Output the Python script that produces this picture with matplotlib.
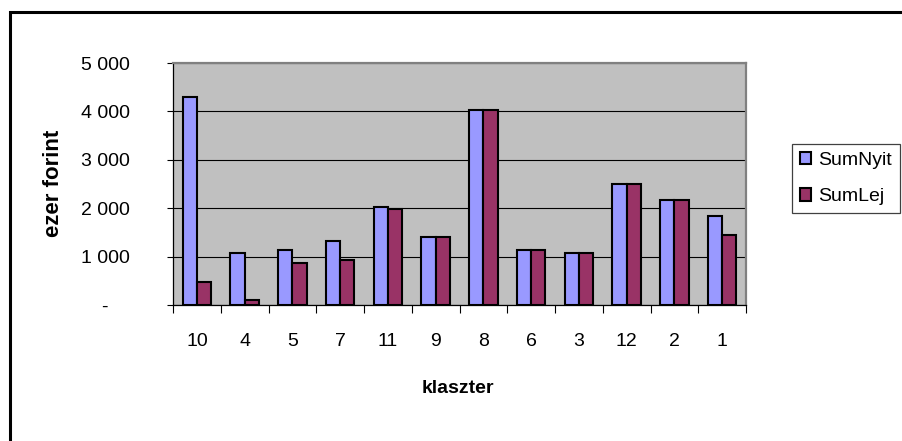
import matplotlib.pyplot as plt
import numpy as np
from matplotlib.patches import Rectangle
from matplotlib.ticker import FuncFormatter

# klaszterek sorrendje és az összegek (ezer forint)
klaszter = ["10", "4", "5", "7", "11", "9", "8", "6", "3", "12", "2", "1"]
sum_nyit = [4290, 1070, 1145, 1330, 2035, 1395, 4035, 1145, 1075, 2495, 2160, 1840]
sum_lej = [480, 100, 875, 940, 1980, 1395, 4035, 1145, 1075, 2495, 2160, 1450]

plt.rcParams["font.family"] = ["Liberation Sans", "DejaVu Sans"]
fs = 14

fig = plt.figure(figsize=(9.02, 4.41), dpi=100)
ax = fig.add_axes([173 / 902, 1 - 305 / 441, 573 / 902, 242 / 441])
ax.set_facecolor("#C0C0C0")

x = np.arange(len(klaszter))
w = 0.30
ax.bar(x - w / 2, sum_nyit, w, color="#9999FF", edgecolor="black", linewidth=1.5,
       label="SumNyit", zorder=3)
ax.bar(x + w / 2, sum_lej, w, color="#993366", edgecolor="black", linewidth=1.5,
       label="SumLej", zorder=3)

ax.set_xlim(-0.5, len(klaszter) - 0.5)
ax.set_ylim(0, 5000)

# y tengely: ezres tagolás szóközzel, nulla helyett kötőjel
def ezres(v, pos):
    if v == 0:
        return "-    "
    return "{:,.0f}".format(v).replace(",", " ")

ax.set_yticks(range(0, 5001, 1000))
ax.yaxis.set_major_formatter(FuncFormatter(ezres))
ax.tick_params(axis="y", direction="out", length=4.3, width=0.8, pad=26.5,
               labelsize=fs)
ax.grid(axis="y", color="black", linewidth=0.8, zorder=1)

ax.set_xticks(x)
ax.set_xticklabels(klaszter)
ax.set_xticks(np.arange(-0.5, len(klaszter)), minor=True)
ax.tick_params(axis="x", which="major", length=0, pad=20, labelsize=fs)
ax.tick_params(axis="x", which="minor", direction="out", length=5.8, width=0.8)

for s in ["top", "right"]:
    ax.spines[s].set_color("#808080")
    ax.spines[s].set_linewidth(1.6)
ax.spines["left"].set_color("black")
ax.spines["bottom"].set_color("black")
ax.spines["left"].set_linewidth(0.9)
ax.spines["bottom"].set_linewidth(0.9)

ax.set_xlabel("klaszter", fontsize=fs, fontweight="bold")
ax.xaxis.set_label_coords(0.497, -0.31)
ax.set_ylabel("ezer forint", fontsize=16, fontweight="bold")
ax.yaxis.set_label_coords(-0.19, 0.504)

leg = ax.legend(loc="center left", bbox_to_anchor=(792 / 902, 1 - 178.5 / 441),
                bbox_transform=fig.transFigure, borderaxespad=0, fontsize=fs,
                fancybox=False, shadow=False, framealpha=1, edgecolor="#404040",
                handlelength=0.6, handleheight=0.6, handletextpad=0.35,
                labelspacing=1.0, borderpad=0.4)
leg.get_frame().set_linewidth(0.9)

# keret a diagram körül
fig.patches.append(Rectangle((9.5 / 902, -0.2), 1.5, 1.2 - 11.5 / 441,
                             transform=fig.transFigure, fill=False,
                             edgecolor="black", linewidth=2.2))

fig.savefig("out.png", dpi=100)
